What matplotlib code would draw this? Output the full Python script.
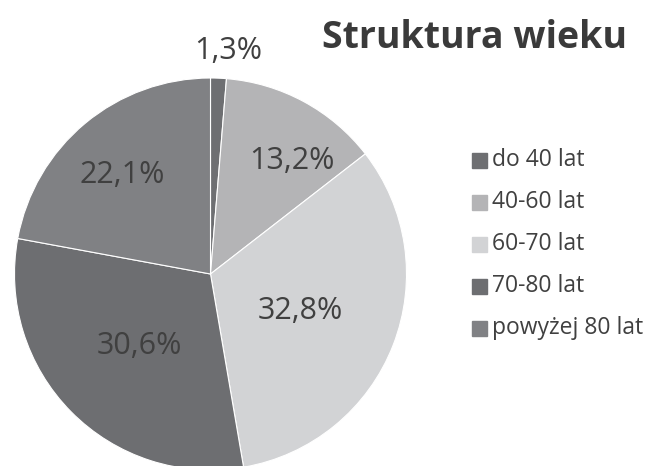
import numpy as np
import matplotlib
matplotlib.use('Agg')
import matplotlib.pyplot as plt

# ── data ──────────────────────────────────────────────────────────────────────
categories = ['do 40 lat', '40-60 lat', '60-70 lat', '70-80 lat', 'powyżej 80 lat']
shares     = [1.3, 13.2, 32.8, 30.6, 22.1]
labels     = ['1,3%', '13,2%', '32,8%', '30,6%', '22,1%']

colors     = ['#6e6f72', '#b4b4b6', '#d2d3d5', '#6d6e71', '#808184']
# label placement (radius in pie units, extra angle in degrees)
lab_r      = [1.14, 0.71, 0.495, 0.515, 0.68]
lab_dang   = [-2.2, -7.5, -0.9, 0.6, 2.0]

plt.rcParams['font.family'] = ['Open Sans', 'DejaVu Sans']

W, H = 648, 466
fig = plt.figure(figsize=(W / 100, H / 100), dpi=100)

cx, cy, r = 210.5, 274, 196
ax = fig.add_axes([(cx - r) / W, (H - cy - r) / H, 2 * r / W, 2 * r / H])

wedges, _ = ax.pie(shares, colors=colors, startangle=90, counterclock=False,
                   radius=1, wedgeprops=dict(edgecolor='white', linewidth=0.8))
ax.set_xlim(-1, 1)
ax.set_ylim(-1, 1)
ax.set_aspect('equal')
ax.axis('off')
for w in wedges:
    w.set_clip_on(False)

for w, txt, rr, da in zip(wedges, labels, lab_r, lab_dang):
    ang = np.deg2rad((w.theta1 + w.theta2) / 2 + da)
    ax.text(rr * np.cos(ang), rr * np.sin(ang), txt, ha='center', va='center',
            fontsize=22, color='#404040', clip_on=False)

fig.text(475 / W, 1 - 38 / H, 'Struktura wieku', ha='center', va='center',
         fontsize=27, fontweight='bold', color='#3a3a3a')

# legend
y0, dy = 160, 42
for i, (cat, col) in enumerate(zip(categories, colors)):
    y = 1 - (y0 + i * dy) / H
    fig.patches.append(plt.Rectangle((472 / W, y - 7.5 / H), 15 / W, 15 / H,
                                     transform=fig.transFigure, color=col))
    fig.text(492 / W, y, cat, ha='left', va='center', fontsize=16.5, color='#404040')

fig.savefig('out.png', dpi=100)
